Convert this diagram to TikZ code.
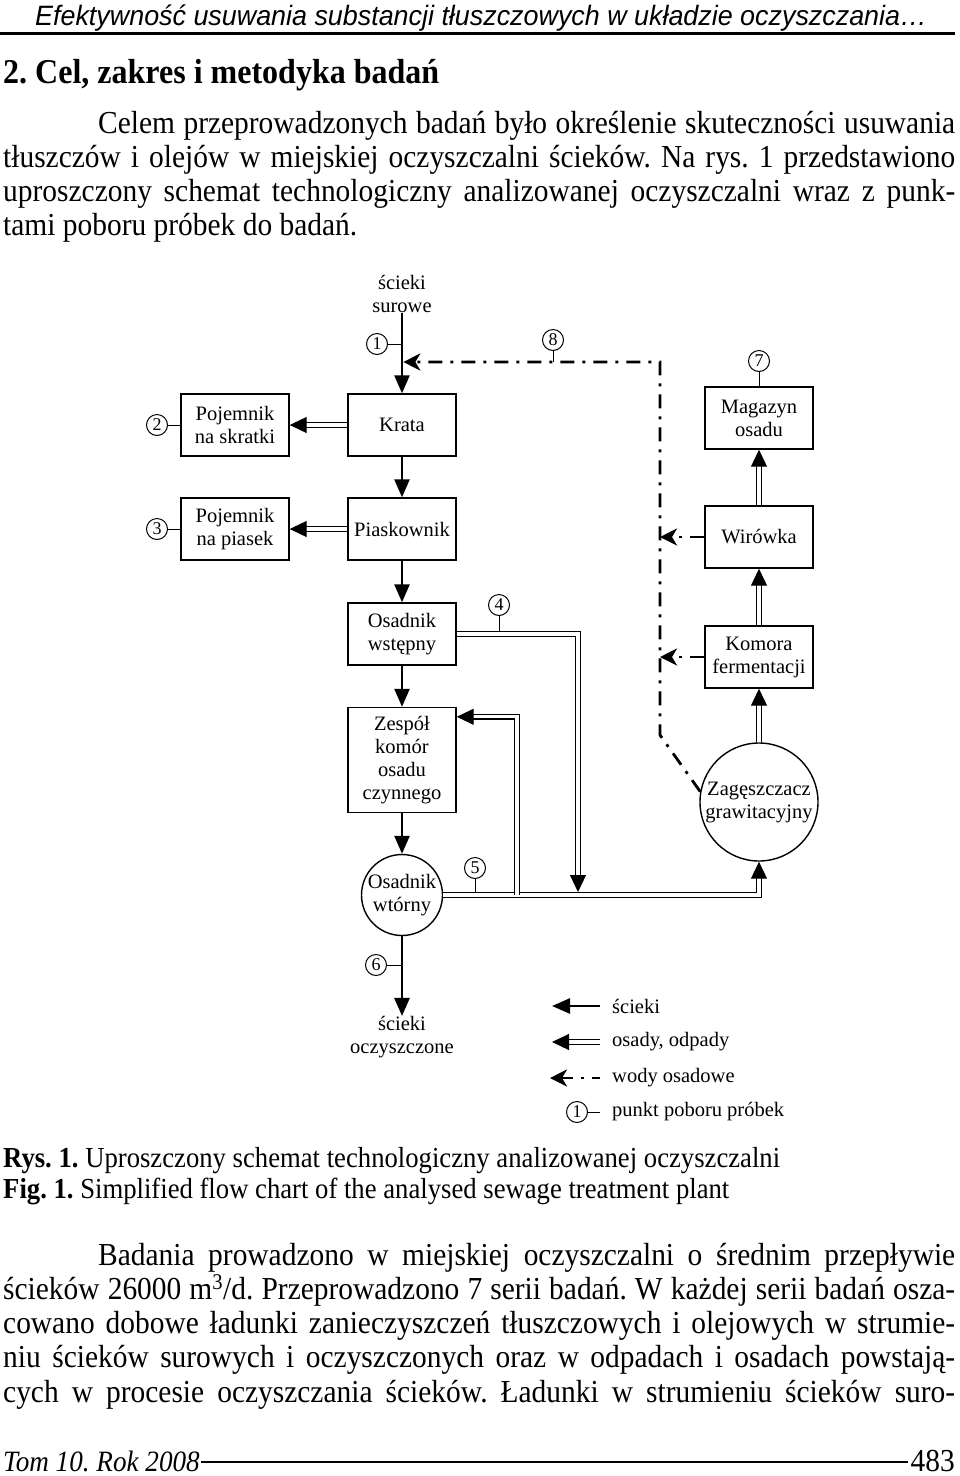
\documentclass[tikz,border=0pt]{standalone}
\usepackage{fontspec}
\setmainfont{Liberation Serif}
\newfontfamily\bodyfont[FakeStretch=0.92]{Liberation Serif}
\newfontfamily\headfont[FakeStretch=0.96]{Liberation Sans}
\usetikzlibrary{arrows.meta,positioning}
\frenchspacing
\newcommand\diagfont{\fontsize{20.5}{23}\selectfont}
\newcommand\bodysize{\bodyfont\fontsize{32}{34}\selectfont}
\newcommand\capsize{\bodyfont\fontsize{29}{30}\selectfont}
\tikzset{
  unitbox/.style={draw, line width=1.4pt, minimum width=108pt, minimum height=62pt, align=center, inner sep=2pt, font=\diagfont},
  tank/.style={draw, circle, line width=1.4pt, align=center, inner sep=-3pt, font=\diagfont},
  spt/.style={draw, circle, line width=1pt, minimum size=21pt, inner sep=0pt, font=\fontsize{18}{18}\selectfont},
  tick/.style={line width=1pt},
  flow/.style={line width=2.6pt, -{Triangle[length=18pt,width=15pt]}},
  sludge/.style={double, double distance=3.2pt, line width=1.1pt, -{Triangle[length=17pt,width=16pt]}},
  water/.style={line width=2.8pt, dash pattern=on 14pt off 8pt on 3pt off 8pt, -{Stealth[length=17pt,width=17pt,inset=5pt]}},
  txt/.style={anchor=base west, inner sep=0pt, font=\bodysize},
  legend/.style={anchor=west, inner sep=0pt, font=\diagfont},
}
\begin{document}
\begin{tikzpicture}[x=1pt, y=-1pt]
\useasboundingbox (0,0) rectangle (960,1476);

% page text above the figure
\node[anchor=base west, inner sep=0pt, font=\headfont\itshape\fontsize{28}{30}\selectfont] (runhead) at (35,25) {Efektywność usuwania substancji tłuszczowych w układzie oczyszczania…};
\draw[line width=3pt] (0,33) -- (955,33);
\node[txt, font=\bodyfont\bfseries\fontsize{34.8}{36}\selectfont] (sect) at (3,83) {2. Cel, zakres i metodyka badań};
\node[txt] (pa1) at (98,133) {\makebox[857pt][s]{Celem przeprowadzonych badań było określenie skuteczności usuwania}};
\node[txt] (pa2) at (3,167) {\makebox[952pt][s]{tłuszczów i olejów w miejskiej oczyszczalni ścieków. Na rys. 1 przedstawiono}};
\node[txt] (pa3) at (3,201) {\makebox[952pt][s]{uproszczony schemat technologiczny analizowanej oczyszczalni wraz z punk-}};
\node[txt] (pa4) at (3,235) {tami poboru próbek do badań.};

% units
\node[unitbox] (krata) at (402,425) {Krata};
\node[unitbox] (pskr) at (235,425) {Pojemnik\\na skratki};
\node[unitbox] (piask) at (402,529) {Piaskownik};
\node[unitbox] (ppias) at (235,529) {Pojemnik\\na piasek};
\node[unitbox] (osw) at (402,634) {Osadnik\\wstępny};
\node[unitbox, minimum height=105pt] (zesp) at (402,760) {Zespół\\komór\\osadu\\czynnego};
\node[tank, minimum size=81pt] (wtor) at (402,895) {Osadnik\\wtórny};
\node[unitbox] (mag) at (759,418) {Magazyn\\osadu};
\node[unitbox] (wir) at (759,537) {Wirówka};
\node[unitbox] (kom) at (759,657) {Komora\\fermentacji};
\node[tank, minimum size=118pt] (zag) at (759,802) {Zagęszczacz\\grawitacyjny};

\node[align=center, inner sep=0pt, font=\diagfont] (raw) at (402,294) {ścieki\\surowe};
\node[align=center, inner sep=0pt, font=\diagfont] (outl) at (402,1037) {ścieki\\oczyszczone};

\coordinate (drop) at (578,892);
\coordinate (junc) at (517,895);
\coordinate (wbend) at (660,735);
\coordinate (wtop) at (660,362);

% sewage
\draw[flow] (raw.south) -- (krata.north);
\draw[flow] (krata.south) -- (piask.north);
\draw[flow] (piask.south) -- (osw.north);
\draw[flow] (osw.south) -- (zesp.north);
\draw[flow] (zesp.south) -- (wtor.north);
\draw[flow] (wtor.south) -- (outl.north);

% sludge and waste
\draw[sludge] (krata.west) -- (pskr.east);
\draw[sludge] (piask.west) -- (ppias.east);
\draw[sludge] (wtor.east) -| (zag.south);
\draw[sludge] (junc) |- ([yshift=-10pt]zesp.north east);
\draw[sludge] (osw.east) -| (drop);
\draw[sludge] (zag.north) -- (kom.south);
\draw[sludge] (kom.north) -- (wir.south);
\draw[sludge] (wir.north) -- (mag.south);

% reject water
\draw[water, shorten >=1.3pt] (zag.170) -- (wbend) -- (wtop) -- (wtop -| krata.north);
\draw[water] (wir.west) -- (wir.west -| wtop);
\draw[water] (kom.west) -- (kom.west -| wtop);

% sampling points
\node[spt] (s1) at (377,344) {1};
\node[spt] (s2) at (157,425) {2};
\node[spt] (s3) at (157,529) {3};
\node[spt] (s4) at (499,605) {4};
\node[spt] (s5) at (475,868) {5};
\node[spt] (s6) at (376,965) {6};
\node[spt] (s7) at (759,361) {7};
\node[spt] (s8) at (553,340) {8};
\draw[tick] (s1.east) -- (s1.east -| krata.north);
\draw[tick] (s2.east) -- (pskr.west);
\draw[tick] (s3.east) -- (ppias.west);
\draw[tick] (s4.south) -- ([yshift=2.7pt]s4.south |- osw.east);
\draw[tick] (s5.south) -- ([yshift=2.7pt]s5.south |- wtor.east);
\draw[tick] (s6.east) -- (s6.east -| wtor.south);
\draw[tick] (s7.south) -- (mag.north);
\draw[tick] (s8.south) -- (s8.south |- wtop);

% legend
\node[legend] (lg1) at (612,1006) {ścieki};
\node[legend] (lg2) at (612,1042) {osady, odpady};
\node[legend] (lg3) at (612,1078) {wody osadowe};
\node[legend] (lg4) at (612,1112) {punkt poboru próbek};
\draw[flow] ([xshift=-12pt]lg1.west) -- ([xshift=-60pt]lg1.west);
\draw[sludge] ([xshift=-12pt]lg2.west) -- ([xshift=-60pt]lg2.west);
\draw[water, dash phase=6pt] ([xshift=-12pt]lg3.west) -- ([xshift=-62pt]lg3.west);
\node[spt] (lgs) at (577,1112) {1};
\draw[tick] (lgs.east) -- ([xshift=-12pt]lg4.west);

% caption and text below
\node[txt, font=\capsize] (cap1) at (3,1167) {\textbf{Rys. 1.} Uproszczony schemat technologiczny analizowanej oczyszczalni};
\node[txt, font=\capsize] (cap2) at (3,1198) {\textbf{Fig. 1.} Simplified flow chart of the analysed sewage treatment plant};
\node[txt] (pb1) at (98,1265) {\makebox[857pt][s]{Badania prowadzono w miejskiej oczyszczalni o średnim przepływie}};
\node[txt] (pb2) at (3,1299) {\makebox[952pt][s]{ścieków 26000 m\textsuperscript{3}/d. Przeprowadzono 7 serii badań. W każdej serii badań osza-}};
\node[txt] (pb3) at (3,1333) {\makebox[952pt][s]{cowano dobowe ładunki zanieczyszczeń tłuszczowych i olejowych w strumie-}};
\node[txt] (pb4) at (3,1367) {\makebox[952pt][s]{niu ścieków surowych i oczyszczonych oraz w odpadach i osadach powstają-}};
\node[txt] (pb5) at (3,1402) {\makebox[952pt][s]{cych w procesie oczyszczania ścieków. Ładunki w strumieniu ścieków suro-}};

% footer
\node[txt, font=\bodyfont\itshape\fontsize{29.5}{30}\selectfont] (foot) at (3,1471) {Tom 10. Rok 2008};
\node[anchor=base east, inner sep=0pt, font=\bodysize] (pgno) at (955,1471) {483};
\draw[line width=2pt] ([xshift=1pt,yshift=9pt]foot.base east) -- ([xshift=-2pt,yshift=9pt]pgno.base west);
\end{tikzpicture}
\end{document}
